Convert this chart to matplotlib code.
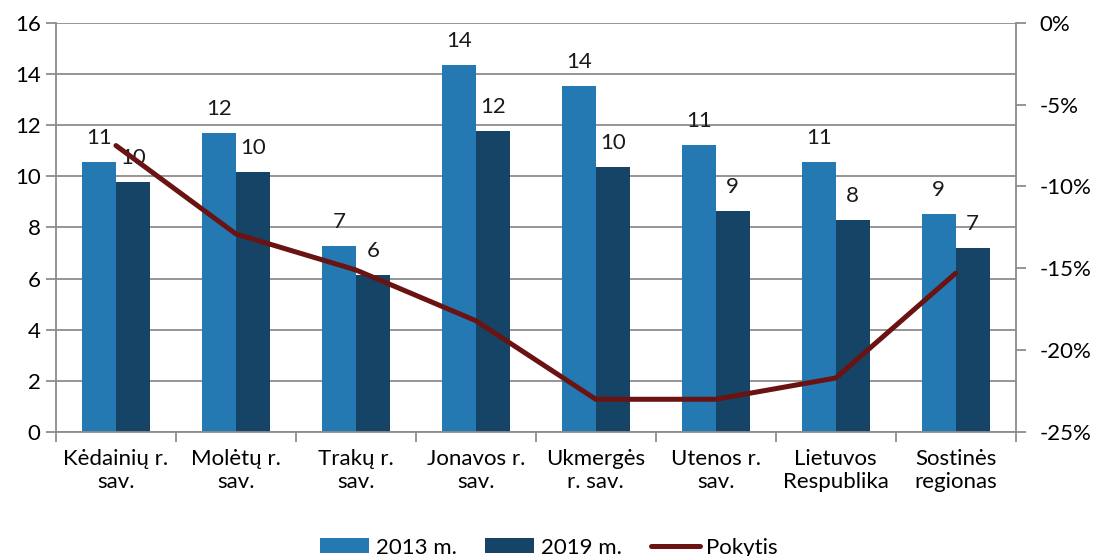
import matplotlib.pyplot as plt
from matplotlib.ticker import FuncFormatter, MultipleLocator
import numpy as np

categories = ["Kėdainių r.\nsav.", "Molėtų r.\nsav.", "Trakų r.\nsav.", "Jonavos r.\nsav.",
              "Ukmergės\nr. sav.", "Utenos r.\nsav.", "Lietuvos\nRespublika", "Sostinės\nregionas"]
values_2013 = [10.56, 11.70, 7.28, 14.36, 13.52, 11.23, 10.56, 8.52]
values_2019 = [9.78, 10.17, 6.14, 11.78, 10.37, 8.65, 8.29, 7.20]
pokytis = [-7.5, -12.9, -15.1, -18.2, -23.0, -23.0, -21.7, -15.3]

C2013 = "#2479b2"
C2019 = "#154466"
CLINE = "#6b1212"
GRID = "#8c8c8c"

plt.rcParams["font.family"] = ["Lato", "DejaVu Sans"]
plt.rcParams["font.size"] = 16

fig = plt.figure(figsize=(10.98, 5.56), dpi=100)
ax = fig.add_axes([0.051, 0.223, 0.874, 0.736])

x = np.arange(len(categories))
w = 0.283
ax.bar(x - w / 2, values_2013, width=w, color=C2013, label="2013 m.", zorder=2)
ax.bar(x + w / 2, values_2019, width=w, color=C2019, label="2019 m.", zorder=2)

# rounded value labels above each bar
for xi, v in zip(x, values_2013):
    ax.text(xi - w / 2, v + 0.55, f"{v:.0f}", ha="center", va="bottom", color="#1a1a1a", zorder=3)
for xi, v in zip(x, values_2019):
    ax.text(xi + w / 2, v + 0.55, f"{v:.0f}", ha="center", va="bottom", color="#1a1a1a", zorder=3)

ax.set_xlim(-0.5, len(categories) - 0.5)
ax.set_ylim(0, 16)
ax.yaxis.set_major_locator(MultipleLocator(2))
ax.grid(axis="y", color=GRID, linewidth=1.3, zorder=0)
ax.set_axisbelow(True)
ax.set_xticks(x)
ax.set_xticklabels(categories, linespacing=1.2)
ax.set_xticks(np.arange(-0.5, len(categories)), minor=True)
ax.tick_params(axis="x", which="major", length=0, pad=12)
ax.tick_params(axis="x", which="minor", length=7, width=1.3, color=GRID)
ax.tick_params(axis="y", length=7, width=1.3, color=GRID, pad=4)
for side in ["top", "right"]:
    ax.spines[side].set_visible(False)
for side in ["left", "bottom"]:
    ax.spines[side].set_color(GRID)
    ax.spines[side].set_linewidth(1.3)

ax2 = ax.twinx()
ax2.plot(x, pokytis, color=CLINE, linewidth=3.6, label="Pokytis", zorder=5,
         solid_capstyle="round")
ax2.set_ylim(-25, 0)
ax2.yaxis.set_major_locator(MultipleLocator(5))
ax2.yaxis.set_major_formatter(FuncFormatter(lambda v, p: f"{v:.0f}%"))
ax2.tick_params(axis="y", length=7, width=1.3, color=GRID, pad=10)
for side in ["top", "left", "bottom"]:
    ax2.spines[side].set_visible(False)
ax2.spines["right"].set_color(GRID)
ax2.spines["right"].set_linewidth(1.3)

h1, l1 = ax.get_legend_handles_labels()
h2, l2 = ax2.get_legend_handles_labels()
fig.legend(h1 + h2, l1 + l2, loc="center", bbox_to_anchor=(0.5, 0.015), ncol=3,
           frameon=False, handlelength=2.2, handleheight=0.65, columnspacing=1.3,
           handletextpad=0.3)

fig.savefig("out.png", dpi=100)
